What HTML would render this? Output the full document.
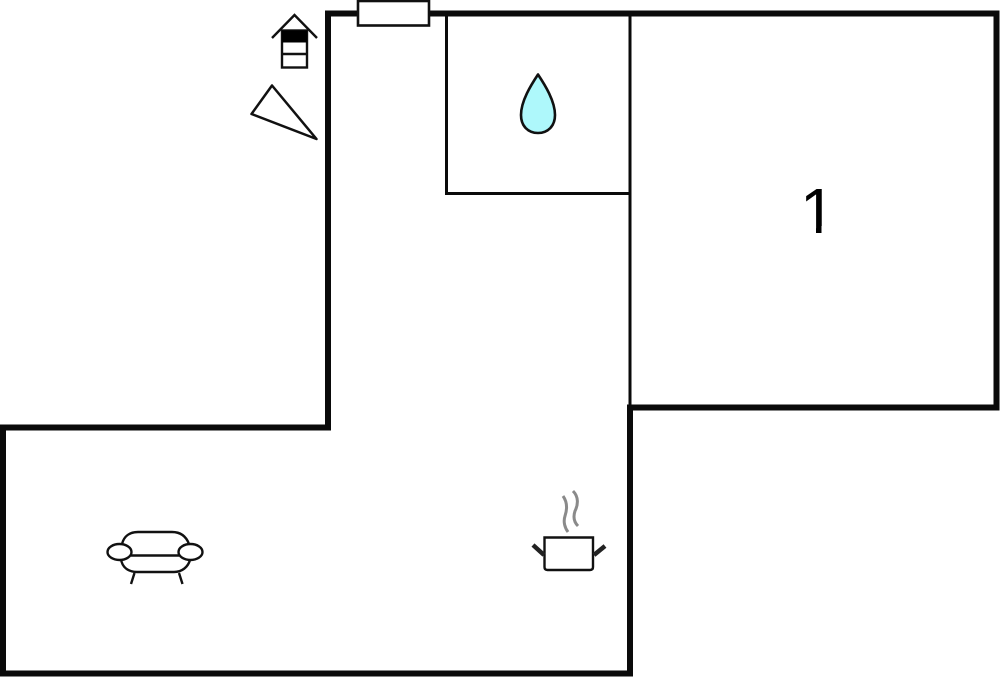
<!DOCTYPE html>
<html><head><meta charset="utf-8"><style>html,body{margin:0;padding:0;background:#fff}svg{display:block}</style></head>
<body>
<svg width="1000" height="677" viewBox="0 0 1000 677" xmlns="http://www.w3.org/2000/svg">
<defs><clipPath id="c"><path d="M790 180H822V226H821.500V233H816V226H790Z"/></clipPath></defs>
<rect width="1000" height="677" fill="#fff"/>
<!-- thin walls -->
<path d="M446.500 14V193.500H630M630 14V408" fill="none" stroke="#0a0a0a" stroke-width="3"/>
<!-- outer wall -->
<path d="M328 13.500H996.500V407.500H630V673.500H3V427.500H328Z" fill="none" stroke="#0a0a0a" stroke-width="6" stroke-linejoin="miter"/>
<!-- window -->
<rect x="358" y="1" width="71" height="24.500" fill="#fff" stroke="#111" stroke-width="2.600"/>
<!-- stairs -->
<path d="M272 38L294.500 15L317 38" fill="none" stroke="#111" stroke-width="2.400"/>
<rect x="282" y="30.500" width="25" height="37" fill="#fff" stroke="#111" stroke-width="2.400"/>
<rect x="282" y="30.500" width="25" height="12" fill="#000"/>
<path d="M282 54H307" stroke="#111" stroke-width="2.400"/>
<!-- triangle -->
<path d="M272 85.500L251.500 114L316.500 139Z" fill="#fff" stroke="#111" stroke-width="2.500" stroke-linejoin="round"/>
<!-- drop -->
<path d="M538 74.500C531 85 521 101 521 115C521 126 528 133 538 133C548 133 555 126 555 115C555 101 545 85 538 74.500Z" fill="#aef8fb" stroke="#111" stroke-width="2.600" stroke-linejoin="round"/>
<!-- number -->
<text x="800" y="233" font-family="'Liberation Sans',Arial,sans-serif" font-size="64" fill="#000" clip-path="url(#c)">1</text>
<!-- sofa -->
<g fill="none" stroke="#111" stroke-width="2.400">
<path d="M122 544C124 536 130 532 138 532H172C180 532 186 536 189 544"/>
<path d="M131 555.500H179"/>
<path d="M121 559C122 567 128 572 137 572H174C182 572 188 567 190 560"/>
<ellipse cx="119.500" cy="552" rx="12" ry="8" fill="#fff"/>
<ellipse cx="190.500" cy="552" rx="12" ry="8" fill="#fff"/>
<path d="M134.500 573L131 584M179 573L182.500 584"/>
</g>
<!-- pot -->
<path d="M544.500 537.500H593V567C593 569 592 570 590 570H547.500C545.500 570 544.500 569 544.500 567Z" fill="#fff" stroke="#111" stroke-width="2.400"/>
<path d="M533 545L544 555M605 546L594 555" stroke="#222" stroke-width="4.500" fill="none"/>
<path d="M563 496C568 503 567 510 565 516C563 522 565 528 568 532M573 491C579 497 578 505 575 511C573 517 574 522 578 526" fill="none" stroke="#8a8a8a" stroke-width="3"/>
</svg>
</body></html>
